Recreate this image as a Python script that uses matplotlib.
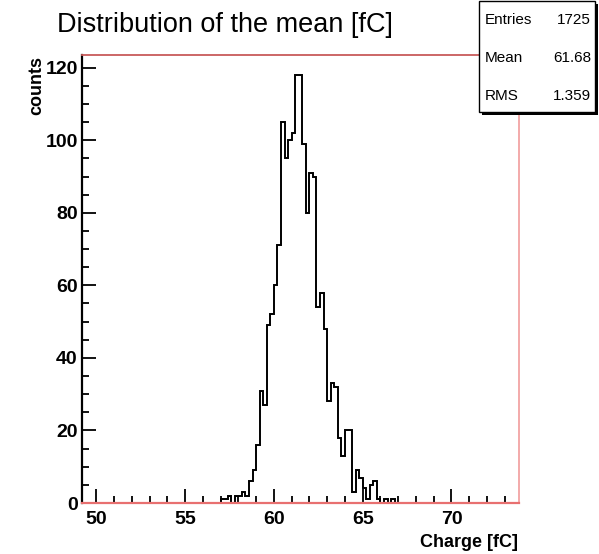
import numpy as np
import matplotlib
matplotlib.use("Agg")
import matplotlib.pyplot as plt
from matplotlib.patches import Rectangle
from matplotlib.ticker import FixedLocator, MultipleLocator

# ---------------- data ----------------
title = "Distribution of the mean [fC]"
x_label = "Charge [fC]"
y_label = "counts"
bin_start = 57.0
bin_width = 0.2
counts = [1, 1, 2, 0, 2, 2, 3, 2, 6, 9, 16, 31, 27,
          49, 52, 60, 71, 105, 95, 100, 102, 118, 118, 99, 80, 91, 90,
          54, 58, 48, 28, 33, 32, 18, 13, 20, 20,
          3, 9, 7, 4, 1, 5, 6, 1, 0, 1, 0, 1]
x_ticks = [50, 55, 60, 65, 70]
y_ticks = [0, 20, 40, 60, 80, 100, 120]
x_range = (49.2, 73.8)
y_range = (0, 123.5)
stats_names = ["Entries", "Mean", "RMS"]
stats_values = ["1725", "61.68", "1.359"]

# ---------------- figure ----------------
W, H = 599, 554
plt.rcParams['font.family'] = ['Liberation Sans', 'DejaVu Sans']
fig = plt.figure(figsize=(W / 100, H / 100), dpi=100)
fig.patch.set_facecolor('white')

def fx(px):
    return px / W

def fy(py):
    return 1 - py / H

ax = fig.add_axes([fx(82), fy(503), fx(519) - fx(82), fy(55) - fy(503)])
edges = np.round(bin_start + bin_width * np.arange(len(counts) + 1), 3)
ax.stairs(counts, edges, color='black', linewidth=1.4, baseline=0, zorder=1)

ax.set_xlim(*x_range)
ax.set_ylim(*y_range)

ax.spines['left'].set_color('black')
ax.spines['left'].set_linewidth(1.6)
ax.spines['bottom'].set_color('#e87070')
ax.spines['bottom'].set_linewidth(1.6)
ax.spines['top'].set_color('#c85a5a')
ax.spines['top'].set_linewidth(1.3)
ax.spines['right'].set_color('#f2a4a4')
ax.spines['right'].set_linewidth(1.3)

ax.xaxis.set_major_locator(FixedLocator(x_ticks))
ax.xaxis.set_minor_locator(MultipleLocator(1))
ax.yaxis.set_major_locator(FixedLocator(y_ticks))
ax.yaxis.set_minor_locator(MultipleLocator(5))
ax.tick_params(which='both', direction='in', top=False, right=False,
               color='black', width=1.3)
ax.tick_params(which='major', length=10)
ax.tick_params(which='minor', length=5)
ax.tick_params(axis='x', which='major', pad=6)
ax.tick_params(axis='y', which='major', pad=3)
for lab in ax.get_xticklabels() + ax.get_yticklabels():
    lab.set_fontsize(14)
    lab.set_fontweight('bold')

# title and axis labels
fig.text(fx(57), fy(32), title, fontsize=19.5, ha='left', va='baseline')
fig.text(fx(37), fy(56), y_label, fontsize=13, fontweight='bold',
         rotation=90, ha='center', va='top')
fig.text(fx(518), fy(547), x_label, fontsize=13, fontweight='bold',
         ha='right', va='baseline')

# statistics box with shadow
bx0, bx1, by0, by1 = 479, 595, 1, 112
shadow = Rectangle((fx(bx0 + 3), fy(by1 + 3)), fx(bx1) - fx(bx0), fy(by0) - fy(by1),
                   transform=fig.transFigure, facecolor='black', edgecolor='none',
                   zorder=5)
box = Rectangle((fx(bx0), fy(by1)), fx(bx1) - fx(bx0), fy(by0) - fy(by1),
                transform=fig.transFigure, facecolor='white', edgecolor='black',
                linewidth=1.0, zorder=6)
fig.patches.extend([shadow, box])
row_y = [20, 58, 96]
for name, val, ry in zip(stats_names, stats_values, row_y):
    fig.text(fx(485), fy(ry), name, fontsize=11, ha='left', va='center', zorder=7)
    fig.text(fx(591), fy(ry), val, fontsize=11, ha='right', va='center', zorder=7)

fig.savefig('out.png', dpi=100)
